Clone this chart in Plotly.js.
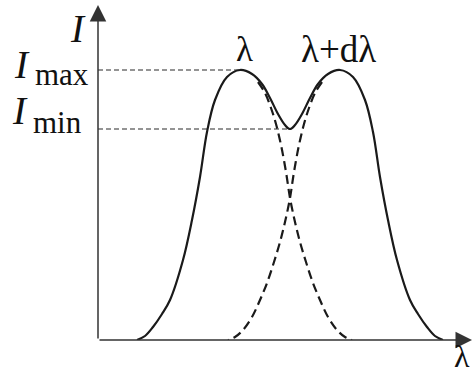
<!DOCTYPE html>
<html>
<head>
<meta charset="utf-8">
<script src="https://cdn.plot.ly/plotly-3.0.1.min.js"></script>
<style>
  html, body { margin: 0; padding: 0; background: #fff; }
  #chart { width: 472px; height: 376px; }
</style>
</head>
<body>
<div id="chart"></div>
<script>
// Combined intensity of two neighbouring spectral lines (solid)
var solidX = [39, 47, 55, 64, 72, 85, 94, 102, 109, 117, 129, 142, 154, 164, 172, 180, 187, 192,
              197, 204, 212, 220, 230, 242, 255, 267, 275, 282, 290, 299, 312, 320, 329, 337, 345];
var solidY = [0, 4, 13, 26, 40, 80, 120, 163, 208, 240, 263, 270, 266, 256, 242, 226, 215, 211,
              215, 226, 242, 256, 266, 270, 263, 240, 208, 163, 120, 80, 40, 26, 13, 4, 0];

// Individual line at wavelength λ (dashed tail)
var lineAX = [160, 167, 173, 178, 183, 188, 192, 197, 202, 208, 215, 222, 230, 239, 247, 254];
var lineAY = [258, 247, 232, 216, 195, 168, 142, 118, 98, 78, 57, 40, 23, 10, 3, 0];

// Individual line at wavelength λ+dλ (dashed tail)
var lineBX = [224, 217, 211, 206, 201, 196, 192, 187, 182, 176, 169, 162, 154, 145, 137, 130];
var lineBY = [258, 247, 232, 216, 195, 168, 142, 118, 98, 78, 57, 40, 23, 10, 3, 0];

// Reference levels
var levelMax = 270;
var levelMin = 211;
var peakAX = 142;
var dipX = 192;

var X_MAX = 374, Y_MAX = 335;
var ink = '#1a1a1a';
var serif = 'Liberation Serif, Times New Roman, serif';

var traces = [
  { x: [0, peakAX], y: [levelMax, levelMax], mode: 'lines',
    line: { color: '#2a2a2a', width: 1.1, dash: '5px,3px' }, hoverinfo: 'skip' },
  { x: [0, dipX], y: [levelMin, levelMin], mode: 'lines',
    line: { color: '#2a2a2a', width: 1.1, dash: '5px,3px' }, hoverinfo: 'skip' },
  { x: lineAX, y: lineAY, mode: 'lines',
    line: { color: ink, width: 2.2, dash: '9px,5px', shape: 'spline', smoothing: 1 } },
  { x: lineBX, y: lineBY, mode: 'lines',
    line: { color: ink, width: 2.2, dash: '9px,5px', shape: 'spline', smoothing: 1 } },
  { x: solidX, y: solidY, mode: 'lines',
    line: { color: ink, width: 2.2, shape: 'spline', smoothing: 1 } }
];

// labels placed in plot units, converted to paper fractions so they may sit outside the axes
function label(text, x, y, size, xa, ya) {
  return { text: text, x: x / X_MAX, y: y / Y_MAX, xref: 'paper', yref: 'paper', showarrow: false,
           xanchor: xa || 'center', yanchor: ya || 'middle', borderpad: 0,
           font: { family: serif, size: size, color: '#111' } };
}

var annotations = [
  // axes with arrowheads
  { x: 0, y: Y_MAX, ax: 0, ay: 0, xref: 'x', yref: 'y', axref: 'x', ayref: 'y',
    text: '', showarrow: true, arrowhead: 2, arrowsize: 2.2, arrowwidth: 1.5,
    arrowcolor: '#333', standoff: 0 },
  { x: X_MAX, y: 0, ax: 0, ay: 0, xref: 'x', yref: 'y', axref: 'x', ayref: 'y',
    text: '', showarrow: true, arrowhead: 2, arrowsize: 2.2, arrowwidth: 1.5,
    arrowcolor: '#333', standoff: 0 },
  label('<i>I</i>', -20, 312, 39),
  label('<i>I</i>', -76, 276, 39),
  label('max', -36, 266, 31),
  label('<i>I</i>', -78, 230, 39),
  label('min', -41, 218, 31),
  label('λ', 146, 291, 35),
  label('λ+dλ', 240, 291, 37),
  label('λ', X_MAX - 1, -35, 32, 'right', 'bottom')
];

var layout = {
  width: 472, height: 376,
  margin: { l: 98, r: 0, t: 5, b: 36, pad: 0 },
  paper_bgcolor: '#fff', plot_bgcolor: '#fff',
  showlegend: false,
  xaxis: { range: [0, X_MAX], visible: false, fixedrange: true },
  yaxis: { range: [0, Y_MAX], visible: false, fixedrange: true },
  annotations: annotations
};

Plotly.newPlot('chart', traces, layout, { displayModeBar: false, staticPlot: true });
</script>
</body>
</html>
